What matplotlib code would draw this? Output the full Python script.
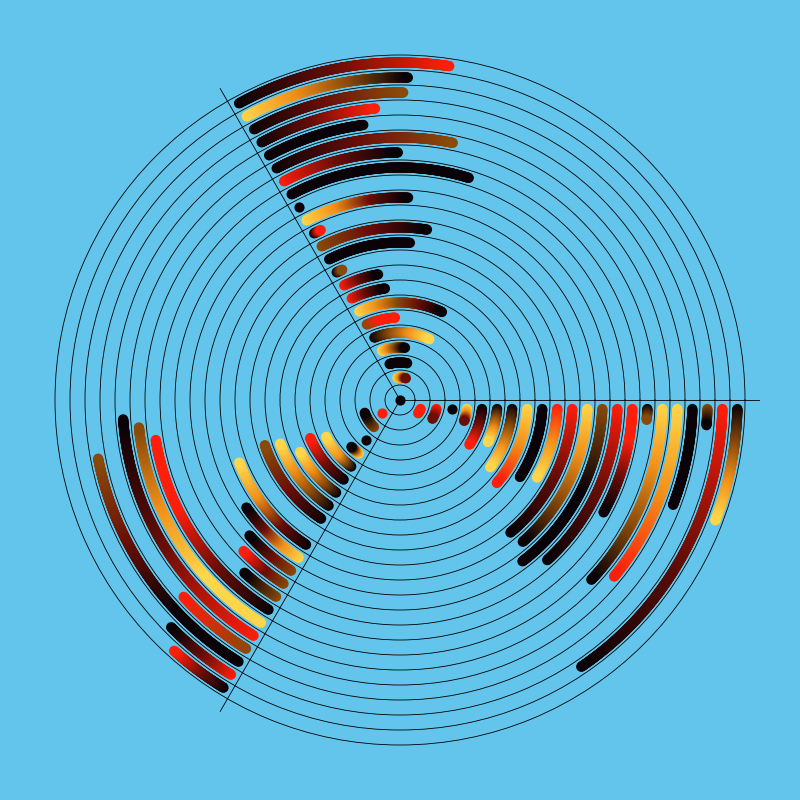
import numpy as np
import matplotlib
matplotlib.use("Agg")
import matplotlib.pyplot as plt
from matplotlib.colors import LinearSegmentedColormap

# ---------------- data ----------------
BG = "#63c5eb"
PALETTE = {
    "K": "#0a0206",
    "DR": "#6a0e06",
    "R": "#ff1e0a",
    "BR": "#8a4a0a",
    "O": "#f29018",
    "Y": "#ffd54a",
}

# three sectors: the angle (deg) of the radial line each group of arcs starts from
sector_angles = [120, 0, 240]
sector_names = ["upper", "right", "left"]

# ring index 1..22 (inner -> outer)
rings = list(range(1, 23))

# angular sweep (deg) of each arc measured from its sector line (clockwise)
sweep_upper = [45, 41, 35.5, 55.8, 26.5, 55.5, 22.3, 20.1, 6.1, 33.6, 39,
               5, 32.3, 0, 47.2, 29.5, 41.6, 22.4, 25.1, 30.6, 31.4, 38.4]
sweep_right = [36, 30, 0, 18, 32.7, 25.5, 36.7, 40.6, 32.7, 29.5, 50.2,
               49.1, 52.8, 47.4, 28.9, 4.6, 43.2, 39.5, 21, 4.7, 55.8, 20.9]
sweep_left = [0, 40, 0, 16, 33.5, 37, 32.5, 40, 41.5, None, 38.7,
              25, 18, 16, 12, 50.7, 54, 56, 17.7, 49, 15.2, 12]

# colour stops along each arc (from the sector line to the arc's end)
colors_upper = ["Y O DR", "K", "Y O BR K", "K BR O Y", "BR R R", "Y O BR DR K",
                "R DR K", "R DR K", "K BR", "K", "BR DR K", "K R", "Y O DR K",
                "K", "K", "R DR K", "K DR BR", "K", "K DR R", "K DR BR",
                "Y O BR K", "K DR R"]
colors_right = ["R", "R DR", "K", "Y O DR", "K DR R", "K BR O Y", "K BR O Y",
                "Y O R", "K", "R O Y", "R DR K", "Y O BR K", "BR K K", "R DR K",
                "R R DR K", "K BR", "Y O BR K", "Y O R", "K", "BR K",
                "R DR K", "K BR O Y"]
colors_left = ["R", "BR K", "K", "Y O BR K", "K O Y", "K DR R", "K BR O Y",
               "K BR O Y", "K DR BR", None, "K DR O Y", "Y O DR K", "BR DR K",
               "BR DR R", "BR K", "K DR R R", "Y Y O BR", "R DR K", "BR R",
               "K K DR BR", "R DR K", "K DR R"]

sweeps = {"upper": sweep_upper, "right": sweep_right, "left": sweep_left}
colours = {"upper": colors_upper, "right": colors_right, "left": colors_left}

# ---------------- figure ----------------
fig = plt.figure(figsize=(8, 8), dpi=100, facecolor=BG)
ax = fig.add_axes([0.05, 0.05, 0.9, 0.9], projection="polar", facecolor=BG)
ax.set_ylim(0, 24)
ax.set_yticks(range(1, 24))
ax.set_xticks(np.deg2rad(sector_angles))
ax.xaxis.set_ticklabels([])
ax.yaxis.set_ticklabels([])
ax.tick_params(length=0)
ax.grid(True, color="black", linewidth=0.6)
ax.set_axisbelow(True)
ax.spines["polar"].set_visible(False)

UNIT_PX = 15.0          # pixels per radial unit (720 px / 48)
GAP = 0.6               # distance of first marker centre from sector line (units)
MS = 54                 # marker area (pt^2) ~ 10 px stroke

for name, sec in zip(sector_names, sector_angles):
    for k, sw, cs in zip(rings, sweeps[name], colours[name]):
        if sw is None or cs is None:
            continue
        r = k + 0.5
        th0 = sec - np.degrees(np.arcsin(GAP / r))
        th1 = min(th0, sec - sw)
        arc_px = np.deg2rad(th0 - th1) * r * UNIT_PX
        n = max(1, int(arc_px / 0.7) + 1)
        th = np.deg2rad(np.linspace(th0, th1, n))
        stops = [PALETTE[c] for c in cs.split()]
        if len(stops) == 1:
            stops = stops * 2
        cmap = LinearSegmentedColormap.from_list("g", stops)
        cols = cmap(np.linspace(0, 1, n))
        ax.scatter(th, np.full(n, r), s=MS, c=cols, linewidths=0, zorder=3)

# centre dot
ax.scatter([0], [0], s=MS, c=[PALETTE["K"]], linewidths=0, zorder=3)

fig.savefig("out.png", dpi=100, facecolor=BG)
